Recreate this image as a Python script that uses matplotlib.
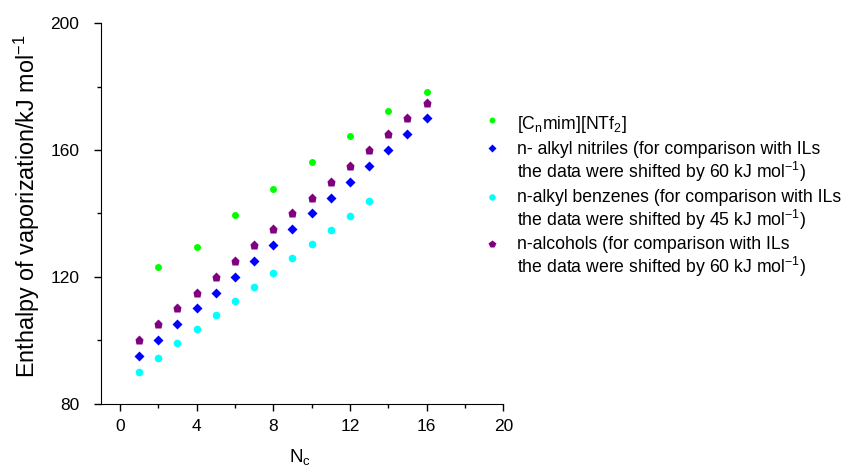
import matplotlib
matplotlib.use("Agg")
import matplotlib.pyplot as plt
from matplotlib.ticker import MultipleLocator

# carbon number in the alkyl chain
n_il = [2, 4, 6, 8, 10, 12, 14, 16]
h_il = [123.2, 129.5, 139.5, 147.8, 156.1, 164.4, 172.3, 178.4]

n_nitrile = list(range(1, 17))
h_nitrile = [95, 100, 105, 110, 115, 120, 125, 130, 135, 140, 145, 150, 155, 160, 165, 170]

n_benzene = list(range(1, 14))
h_benzene = [89.8, 94.4, 99.0, 103.5, 108.0, 112.5, 116.8, 121.3, 125.8, 130.3, 134.8, 139.3, 143.8]

n_alcohol = list(range(1, 17))
h_alcohol = [100, 105, 110, 115, 120, 125, 130, 135, 140, 145, 150, 155, 160, 165, 170, 175]

# each legend entry: first line, optional second line
labels = [
    [r"[C$_{\rm n}$mim][NTf$_2$]"],
    ["n- alkyl nitriles (for comparison with ILs",
     "the data were shifted by 60 kJ mol$^{-1}$)"],
    ["n-alkyl benzenes (for comparison with ILs",
     "the data were shifted by 45 kJ mol$^{-1}$)"],
    ["n-alcohols (for comparison with ILs",
     "the data were shifted by 60 kJ mol$^{-1}$)"],
]

plt.rcParams["font.family"] = ["Liberation Sans", "DejaVu Sans"]
plt.rcParams["mathtext.fontset"] = "custom"
plt.rcParams["mathtext.rm"] = "Liberation Sans"
plt.rcParams["font.size"] = 12

W, H = 847, 468
fig = plt.figure(figsize=(W / 100, H / 100), dpi=100)
ax = fig.add_axes([0.1189, 0.1378, 0.4753, 0.8124])

s1, = ax.plot(n_il, h_il, "o", color="#00ff00", ms=5, mec="none", clip_on=False)
s2, = ax.plot(n_nitrile, h_nitrile, "D", color="#0000ff", ms=5, mec="none", clip_on=False)
s3, = ax.plot(n_benzene, h_benzene, "o", color="#00ffff", ms=5.5, mec="none", clip_on=False)
s4, = ax.plot(n_alcohol, h_alcohol, "p", color="#800080", ms=6.5, mec="none", clip_on=False)

ax.set_xlim(-1, 20)
ax.set_ylim(80, 200)
ax.xaxis.set_major_locator(MultipleLocator(4))
ax.xaxis.set_minor_locator(MultipleLocator(2))
ax.yaxis.set_major_locator(MultipleLocator(40))
ax.yaxis.set_minor_locator(MultipleLocator(20))
ax.tick_params(which="major", direction="out", length=5, width=1, labelsize=12.5)
ax.tick_params(which="minor", direction="out", length=3, width=1)
ax.tick_params(axis="y", pad=10.5)
ax.tick_params(axis="x", pad=6.5)
for side in ("top", "right"):
    ax.spines[side].set_visible(False)

ax.set_xlabel("N$_{\\rm c}$", fontsize=13.5)
ax.xaxis.set_label_coords(0.495, -0.116)
ax.set_ylabel("Enthalpy of vaporization/kJ mol$^{-1}$", fontsize=16.8)
ax.yaxis.set_label_coords(-0.145, 0.52)

# legend drawn by hand: marker beside the first line of each entry
mark_y = [120, 148.3, 196.7, 244]
base_y = [129.3, 154, 201.7, 249.3]
for h, lines, my, by in zip([s1, s2, s3, s4], labels, mark_y, base_y):
    fig.lines.append(plt.Line2D([492 / W], [1 - my / H], transform=fig.transFigure,
                                marker=h.get_marker(), color=h.get_color(),
                                ms=h.get_markersize() * 0.85, mec="none", ls="none"))
    for i, txt in enumerate(lines):
        fig.text(517 / W, 1 - (by + 24 * i) / H, txt, va="baseline", ha="left",
                 fontsize=12.7)

fig.savefig("out.png", dpi=100)
